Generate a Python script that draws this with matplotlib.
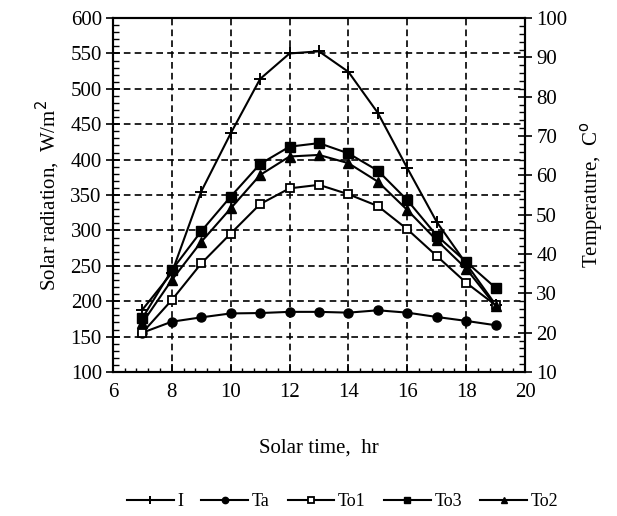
import matplotlib
matplotlib.use('Agg')
import matplotlib.pyplot as plt
from matplotlib.ticker import MultipleLocator

plt.rcParams['font.family'] = ['Liberation Serif', 'DejaVu Serif']

# solar time, hr
hours = [7, 8, 9, 10, 11, 12, 13, 14, 15, 16, 17, 18, 19]

# solar radiation, W/m2 (left axis)
I = [188, 240, 355, 437, 514, 550, 553, 524, 466, 388, 312, 253, 195]

# temperatures, C (right axis)
Ta = [20.0, 22.8, 23.9, 24.9, 25.0, 25.3, 25.3, 25.1, 25.7, 25.1, 24.0, 23.0, 21.9]
To1 = [20.0, 28.3, 37.6, 45.2, 52.7, 56.7, 57.6, 55.2, 52.2, 46.3, 39.5, 32.7, 27.0]
To3 = [23.7, 35.9, 45.8, 54.6, 62.9, 67.3, 68.2, 65.6, 61.2, 53.7, 44.7, 38.0, 31.4]
To2 = [22.5, 33.4, 43.1, 51.6, 60.1, 64.8, 65.2, 63.1, 58.4, 51.2, 43.5, 36.3, 26.8]

fig = plt.figure(figsize=(6.17, 5.16), dpi=100)
ax = fig.add_axes([0.183, 0.279, 0.668, 0.686])
ax2 = ax.twinx()

lw = 1.5
h1, = ax.plot(hours, I, color='black', lw=lw, marker='+', ms=9, mew=1.4, label='I')
h2, = ax2.plot(hours, Ta, color='black', lw=lw, marker='o', ms=6.5, label='Ta')
h3, = ax2.plot(hours, To1, color='black', lw=lw, marker='s', ms=6, mfc='white', mew=1.3, label='To1')
h4, = ax2.plot(hours, To3, color='black', lw=lw, marker='s', ms=6.5, label='To3')
h5, = ax2.plot(hours, To2, color='black', lw=lw, marker='^', ms=6.5, label='To2')

ax.set_xlim(6, 20)
ax.set_ylim(100, 600)
ax2.set_ylim(10, 100)

ax.xaxis.set_major_locator(MultipleLocator(2))
ax.xaxis.set_minor_locator(MultipleLocator(0.4))
ax.yaxis.set_major_locator(MultipleLocator(50))
ax.yaxis.set_minor_locator(MultipleLocator(10))
ax2.yaxis.set_major_locator(MultipleLocator(10))
ax2.yaxis.set_minor_locator(MultipleLocator(2))

ax.grid(True, which='major', color='black', linestyle=(0, (4, 2.5)), lw=1.2)

ax.tick_params(axis='x', which='major', direction='in', length=6, width=1.2, labelsize=15, pad=8)
ax.tick_params(axis='x', which='minor', direction='in', length=3, width=1)
ax.tick_params(axis='y', which='major', direction='inout', length=10, width=1.2, labelsize=15, pad=3)
ax.tick_params(axis='y', which='minor', direction='in', length=4, width=1)
ax2.tick_params(axis='y', which='major', direction='inout', length=10, width=1.2, labelsize=15, pad=3)
ax2.tick_params(axis='y', which='minor', direction='in', length=4, width=1)

for a in (ax, ax2):
    for s in a.spines.values():
        s.set_linewidth(1.5)

ax.set_xlabel('Solar time,  hr', fontsize=15, labelpad=26)
ax.set_ylabel('Solar radiation,  W/m$^2$', fontsize=15, labelpad=6)
ax2.set_ylabel('Temperature,  C$^{\\rm o}$', fontsize=15, labelpad=8)

fig.legend(handles=[h1, h2, h3, h4, h5], loc='lower center', bbox_to_anchor=(0.555, -0.02),
           ncol=5, frameon=False, fontsize=13, handlelength=2.6, columnspacing=1.0,
           handletextpad=0.2, markerscale=0.7)

fig.savefig('out.png', dpi=100)
